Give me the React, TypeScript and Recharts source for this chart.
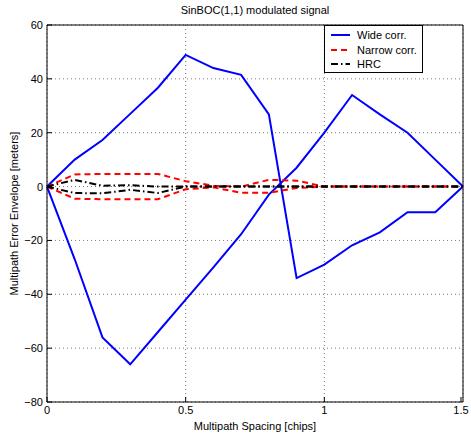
import { LineChart, Line, XAxis, YAxis, CartesianGrid, ReferenceLine } from 'recharts'

const spacing = [0, 0.1, 0.2, 0.3, 0.4, 0.5, 0.6, 0.7, 0.8, 0.9, 1.0, 1.1, 1.2, 1.3, 1.4, 1.5]

const wideUpper = [0, 10, 17.3, 27, 36.7, 48.9, 44, 41.5, 26.8, -34, -29, -21.8, -17, -9.5, -9.5, 0]
const wideLower = [0, -27, -56, -66, -54, -42, -30, -17.7, -3, 7, 20, 34, 26.8, 20, 10, 0]

const narrowUpper = [0, 4.5, 4.7, 4.7, 4.7, 2, 0.3, 0, 2.5, 2.2, 0, 0, 0, 0, 0, 0]
const narrowLower = [0, -4.5, -4.7, -4.7, -4.7, -1, -0.3, -2.3, -2.3, -0.5, 0, 0, 0, 0, 0, 0]

const hrcUpper = [0, 2.5, 0.3, 0.5, 0, 0, 0, 0, 0, 0, 0, 0, 0, 0, 0, 0]
const hrcLower = [0, -2.4, -2.5, -1.2, -2.4, 0, 0, 0, 0, 0, 0, 0, 0, 0, 0, 0]

const xTicks = [0, 0.5, 1, 1.5]
const yTicks = [-80, -60, -40, -20, 0, 20, 40, 60]

const data = spacing.map((x, i) => ({
  x,
  wideUp: wideUpper[i],
  wideLo: wideLower[i],
  narrowUp: narrowUpper[i],
  narrowLo: narrowLower[i],
  hrcUp: hrcUpper[i],
  hrcLo: hrcLower[i],
}))

const FONT = '"Liberation Sans", Arial, Helvetica, sans-serif'
const WIDE = '#0000FF'
const NARROW = '#FF0000'
const HRC = '#000000'
const HRC_DASH = '7 3 1.5 3'

const fmt = (v: number) => (v < 0 ? `\u2212${Math.abs(v)}` : `${v}`)

const XTick = ({ x, y, payload }: any) => (
  <g>
    <line x1={x} x2={x} y1={y - 4} y2={y - 9} stroke="#000" />
    <text x={x} y={y + 8} textAnchor="middle" fontSize={11} fontFamily={FONT} fill="#000">
      {fmt(payload.value)}
    </text>
  </g>
)

const YTick = ({ x, y, payload }: any) => (
  <g>
    <line x1={x + 4} x2={x + 9} y1={y} y2={y} stroke="#000" />
    <text x={x} y={y + 4} textAnchor="end" fontSize={11} fontFamily={FONT} fill="#000">
      {fmt(payload.value)}
    </text>
  </g>
)

const legendItems = [
  { name: 'Wide corr.', color: WIDE, dash: undefined },
  { name: 'Narrow corr.', color: NARROW, dash: '6 4' },
  { name: 'HRC', color: HRC, dash: HRC_DASH },
]

const LegendBox = () => (
  <div
    style={{
      position: 'absolute',
      top: 25,
      left: 324,
      width: 99,
      height: 48,
      border: '1px solid #000',
      background: '#fff',
      boxSizing: 'border-box',
      padding: '2px 0 0 6px',
      fontFamily: FONT,
      fontSize: 11,
      zIndex: 2,
    }}
  >
    {legendItems.map((it) => (
      <div key={it.name} style={{ display: 'flex', alignItems: 'center', height: 14.5 }}>
        <svg width={20} height={6}>
          <line x1={0} x2={19} y1={3} y2={3} stroke={it.color} strokeWidth={2} strokeDasharray={it.dash} />
        </svg>
        <span style={{ marginLeft: 6 }}>{it.name}</span>
      </div>
    ))}
  </div>
)

export default function App() {
  return (
    <div style={{ position: 'absolute', left: 0, top: 0, width: 471, height: 433, background: '#fff' }}>
      <div
        style={{
          position: 'absolute',
          top: 4,
          left: 47,
          width: 416,
          textAlign: 'center',
          fontFamily: FONT,
          fontSize: 11,
        }}
      >
        SinBOC(1,1) modulated signal
      </div>
      <LineChart width={471} height={433} data={data} margin={{ top: 25, right: 8, bottom: 0, left: 0 }}>
        <CartesianGrid stroke="#777" strokeDasharray="1 3" horizontalValues={yTicks} verticalValues={xTicks} />
        <XAxis
          dataKey="x"
          type="number"
          domain={[0, 1.5]}
          ticks={xTicks}
          height={31}
          tickSize={0}
          tickMargin={4}
          tickLine={false}
          axisLine={{ stroke: '#000' }}
          tick={<XTick />}
          label={{
            value: 'Multipath Spacing [chips]',
            position: 'insideBottom',
            offset: 3,
            fontSize: 11,
            fontFamily: FONT,
            fill: '#000',
          }}
        />
        <YAxis
          type="number"
          domain={[-80, 60]}
          ticks={yTicks}
          width={47}
          tickSize={0}
          tickMargin={4}
          tickLine={false}
          axisLine={{ stroke: '#000' }}
          tick={<YTick />}
          label={{
            value: 'Multipath Error Envelope [meters]',
            angle: -90,
            position: 'insideLeft',
            offset: 14,
            fontSize: 11,
            fontFamily: FONT,
            fill: '#000',
            style: { textAnchor: 'middle' },
          }}
        />
        <ReferenceLine y={60} stroke="#000" />
        <ReferenceLine x={1.5} stroke="#000" />
        <Line dataKey="wideUp" stroke={WIDE} strokeWidth={2} dot={false} isAnimationActive={false} />
        <Line dataKey="wideLo" stroke={WIDE} strokeWidth={2} dot={false} isAnimationActive={false} />
        <Line dataKey="narrowUp" stroke={NARROW} strokeWidth={2} strokeDasharray="6 4" dot={false} isAnimationActive={false} />
        <Line dataKey="narrowLo" stroke={NARROW} strokeWidth={2} strokeDasharray="6 4" dot={false} isAnimationActive={false} />
        <Line dataKey="hrcUp" stroke={HRC} strokeWidth={2} strokeDasharray={HRC_DASH} dot={false} isAnimationActive={false} />
        <Line dataKey="hrcLo" stroke={HRC} strokeWidth={2} strokeDasharray={HRC_DASH} dot={false} isAnimationActive={false} />
      </LineChart>
      <LegendBox />
    </div>
  )
}
